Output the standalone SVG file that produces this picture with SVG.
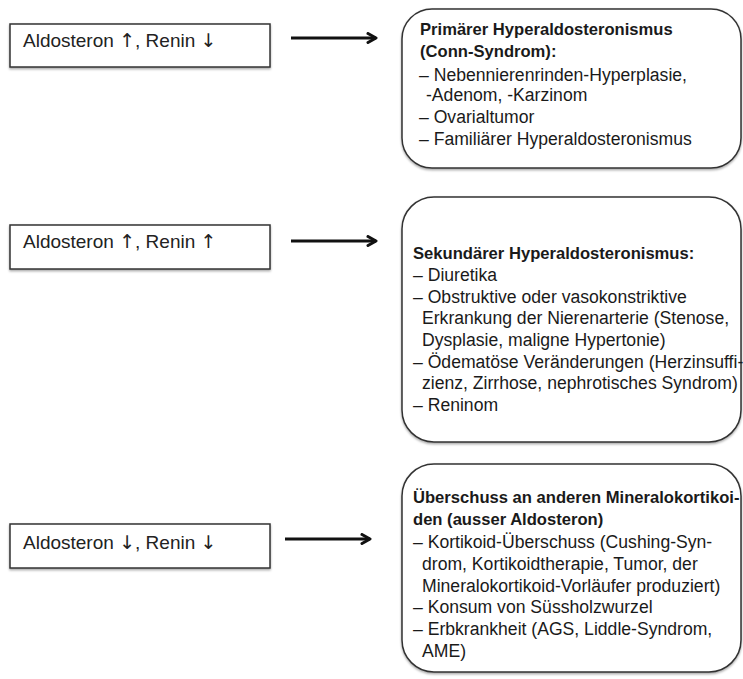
<svg xmlns="http://www.w3.org/2000/svg" width="743" height="679" viewBox="0 0 743 679">
<defs>
<filter id="sh" x="-10%" y="-10%" width="120%" height="130%">
<feDropShadow dx="0" dy="1.5" stdDeviation="1.2" flood-color="#000" flood-opacity="0.35"/>
</filter>
<marker id="ah" viewBox="0 0 12 12" refX="10" refY="6" markerWidth="12" markerHeight="12" markerUnits="userSpaceOnUse" orient="auto">
<path d="M2,1.5 L10,6 L2,10.5" fill="none" stroke="#111" stroke-width="3" stroke-linecap="round" stroke-linejoin="round"/>
</marker>
<style>
.lbox{fill:#fff;stroke:#333;stroke-width:1.5;filter:url(#sh)}
.rbox{fill:#fff;stroke:#333;stroke-width:1.5;filter:url(#sh)}
.lt{font-family:"Liberation Sans",Arial,sans-serif;font-size:19px;fill:#222}
.ar{font-family:"DejaVu Sans",sans-serif;fill:#222}
.t{font-family:"Liberation Sans",Arial,sans-serif;font-size:17.6px;fill:#1a1a1a}
.b{font-weight:bold;font-size:16.6px}
.con{stroke:#111;stroke-width:3;fill:none;marker-end:url(#ah)}
</style>
</defs>
<rect width="743" height="679" fill="#fff"/>
<g id="connectors">
<line class="con" x1="291" y1="38" x2="376" y2="38"/>
<line class="con" x1="291" y1="241" x2="376" y2="241"/>
<line class="con" x1="285" y1="539" x2="370" y2="539"/>
</g>
<g id="n1">
<rect class="lbox" x="10" y="24" width="260" height="43"/>
<text class="lt" x="23" y="47">Aldosteron <tspan class="ar">↑</tspan>, Renin <tspan class="ar">↓</tspan></text>
</g>
<g id="n2">
<rect class="lbox" x="10" y="225" width="260" height="44"/>
<text class="lt" x="23" y="248">Aldosteron <tspan class="ar">↑</tspan>, Renin <tspan class="ar">↑</tspan></text>
</g>
<g id="n3">
<rect class="lbox" x="10" y="524" width="260" height="44"/>
<text class="lt" x="23" y="549">Aldosteron <tspan class="ar">↓</tspan>, Renin <tspan class="ar">↓</tspan></text>
</g>
<g id="r1">
<rect class="rbox" x="402" y="9" width="339" height="159" rx="30" ry="30"/>
<text class="t b" x="420" y="35">Primärer Hyperaldosteronismus</text>
<text class="t b" x="420" y="57">(Conn-Syndrom):</text>
<text class="t" x="419" y="81">– Nebennierenrinden-Hyperplasie,</text>
<text class="t" x="426" y="101">-Adenom, -Karzinom</text>
<text class="t" x="419" y="123">– Ovarialtumor</text>
<text class="t" x="419" y="145">– Familiärer Hyperaldosteronismus</text>
</g>
<g id="r2">
<rect class="rbox" x="402" y="197" width="339" height="245" rx="32" ry="32"/>
<text class="t b" x="413" y="259">Sekundärer Hyperaldosteronismus:</text>
<text class="t" x="413" y="281">– Diuretika</text>
<text class="t" x="413" y="303">– Obstruktive oder vasokonstriktive</text>
<text class="t" x="422" y="324">Erkrankung der Nierenarterie (Stenose,</text>
<text class="t" x="422" y="346">Dysplasie, maligne Hypertonie)</text>
<text class="t" x="413" y="368">– Ödematöse Veränderungen (Herzinsuffi-</text>
<text class="t" x="422" y="389">zienz, Zirrhose, nephrotisches Syndrom)</text>
<text class="t" x="413" y="411">– Reninom</text>
</g>
<g id="r3">
<rect class="rbox" x="402" y="464" width="339" height="208" rx="32" ry="32"/>
<text class="t b" x="413" y="503">Überschuss an anderen Mineralokortikoi-</text>
<text class="t b" x="413" y="525">den (ausser Aldosteron)</text>
<text class="t" x="413" y="548">– Kortikoid-Überschuss (Cushing-Syn-</text>
<text class="t" x="422" y="570">drom, Kortikoidtherapie, Tumor, der</text>
<text class="t" x="422" y="592">Mineralokortikoid-Vorläufer produziert)</text>
<text class="t" x="413" y="613">– Konsum von Süssholzwurzel</text>
<text class="t" x="413" y="635">– Erbkrankheit (AGS, Liddle-Syndrom,</text>
<text class="t" x="422" y="657">AME)</text>
</g>
</svg>
